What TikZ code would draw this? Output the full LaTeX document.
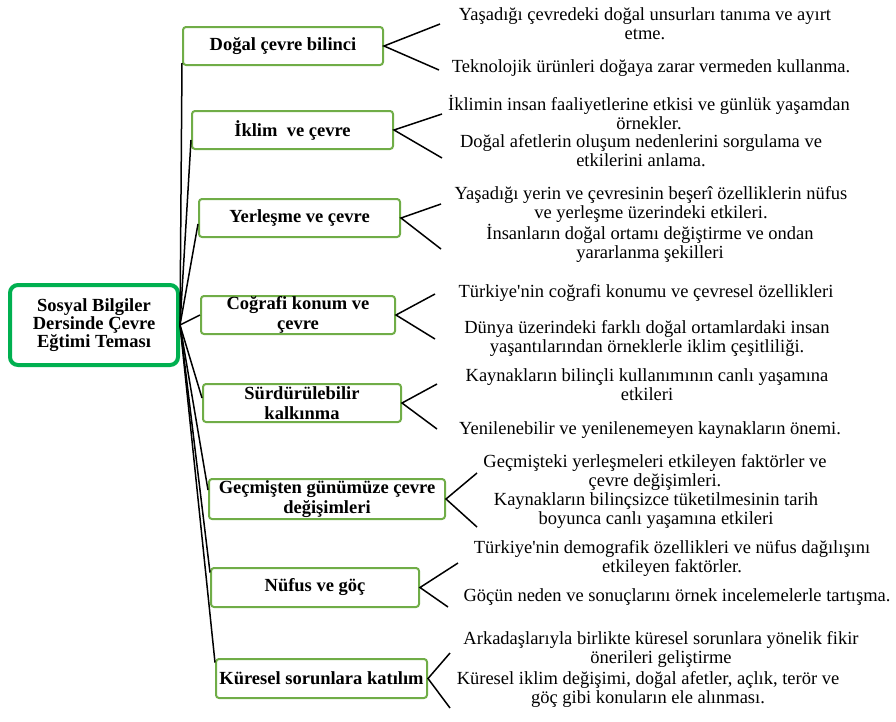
\documentclass[tikz,border=0pt]{standalone}
\usepackage{fontspec}
\setmainfont{Liberation Serif}
\newfontfamily\straightfont{Liberation Serif}
\usetikzlibrary{calc}
\definecolor{rootgreen}{RGB}{0,176,80}
\definecolor{boxgreen}{RGB}{112,173,71}
\newcommand{\apos}{{\straightfont '}}
\tikzset{
 rootbox/.style={draw=rootgreen, line width=4pt, rounded corners=8pt, inner sep=0pt, align=center, font=\bfseries\fontsize{18.5}{18}\selectfont},
 topicbox/.style={draw=boxgreen, line width=2pt, rounded corners=3pt, inner sep=0pt, align=center, font=\bfseries\fontsize{18.5}{19.5}\selectfont},
 leaf/.style={inner sep=0pt, align=center, font=\fontsize{18.5}{19}\selectfont},
 link/.style={draw=black, line width=1.5pt},
}
\begin{document}
\begin{tikzpicture}[x=1pt,y=-1pt]
\useasboundingbox (0,0) rectangle (896,721);
\node[rootbox, minimum width=168pt, minimum height=80pt] (root) at (94,325) {Sosyal Bilgiler\\Dersinde Çevre\\Eğtimi Teması};

\node[topicbox, minimum width=200pt, minimum height=38pt] (t1) at (283,46) {Doğal çevre bilinci};
\node[topicbox, minimum width=201pt, minimum height=38pt] (t2) at (292.5,130) {İklim\ \ ve çevre};
\node[topicbox, minimum width=201pt, minimum height=38pt] (t3) at (299.5,218) {Yerleşme ve çevre};
\node[topicbox, minimum width=194pt, minimum height=38pt] (t4) at (298,315) {Coğrafi konum ve\\çevre};
\node[topicbox, minimum width=198pt, minimum height=38pt] (t5) at (302,403) {Sürdürülebilir\\kalkınma};
\node[topicbox, minimum width=236pt, minimum height=40pt] (t6) at (327,499) {Geçmişten günümüze çevre\\değişimleri};
\node[topicbox, minimum width=208pt, minimum height=39pt] (t7) at (315,587.5) {Nüfus ve göç};
\node[topicbox, minimum width=211pt, minimum height=39pt] (t8) at (321.5,678.5) {Küresel sorunlara katılım};

\draw[link] (root.east) -- ([yshift=-17pt]t1.west);
\draw[link] (root.east) -- ([yshift=-10pt]t2.west);
\draw[link] (root.east) -- ([yshift=-6pt]t3.west);
\draw[link] (root.east) -- (t4.west);
\draw[link] (root.east) -- ([yshift=5pt]t5.west);
\draw[link] (root.east) -- ([yshift=9pt]t6.west);
\draw[link] (root.east) -- ([yshift=15pt]t7.west);
\draw[link] (root.east) -- ([yshift=16pt]t8.west);

\node[leaf] (l1a) at (645,24) {Yaşadığı çevredeki doğal unsurları tanıma ve ayırt\\etme.};
\node[leaf] (l1b) at (651,68) {Teknolojik ürünleri doğaya zarar vermeden kullanma.};
\node[leaf] (l2a) at (649,112) {İklimin insan faaliyetlerine etkisi ve günlük yaşamdan\\örnekler.};
\node[leaf] (l2b) at (641,151) {Doğal afetlerin oluşum nedenlerini sorgulama ve\\etkilerini anlama.};
\node[leaf] (l3a) at (651,204) {Yaşadığı yerin ve çevresinin beşerî özelliklerin nüfus\\ve yerleşme üzerindeki etkileri.};
\node[leaf] (l3b) at (650,243) {İnsanların doğal ortamı değiştirme ve ondan\\yararlanma şekilleri};
\node[leaf] (l4a) at (646,293) {Türkiye\apos nin coğrafi konumu ve çevresel özellikleri};
\node[leaf] (l4b) at (647,338) {Dünya üzerindeki farklı doğal ortamlardaki insan\\yaşantılarından örneklerle iklim çeşitliliği.};
\node[leaf] (l5a) at (647,385) {Kaynakların bilinçli kullanımının canlı yaşamına\\etkileri};
\node[leaf] (l5b) at (650,430) {Yenilenebilir ve yenilenemeyen kaynakların önemi.};
\node[leaf] (l6a) at (655,472) {Geçmişteki yerleşmeleri etkileyen faktörler ve\\çevre değişimleri.};
\node[leaf] (l6b) at (656,511) {Kaynakların bilinçsizce tüketilmesinin tarih\\boyunca canlı yaşamına etkileri};
\node[leaf] (l7a) at (672,558) {Türkiye\apos nin demografik özellikleri ve nüfus dağılışını\\etkileyen faktörler.};
\node[leaf] (l7b) at (677,597) {Göçün neden ve sonuçlarını örnek incelemelerle tartışma.};
\node[leaf] (l8a) at (661,649) {Arkadaşlarıyla birlikte küresel sorunlara yönelik fikir\\önerileri geliştirme};
\node[leaf] (l8b) at (648,689) {Küresel iklim değişimi, doğal afetler, açlık, terör ve\\göç gibi konuların ele alınması.};

\coordinate (f1a) at (440,24); \coordinate (f1b) at (439,70);
\coordinate (f2a) at (442,114); \coordinate (f2b) at (442,158);
\coordinate (f3a) at (441,204); \coordinate (f3b) at (441,249);
\coordinate (f4a) at (435,294); \coordinate (f4b) at (435,339);
\coordinate (f5a) at (437,384); \coordinate (f5b) at (437,429);
\coordinate (f6a) at (477,473); \coordinate (f6b) at (477,527);
\coordinate (f7a) at (458,563); \coordinate (f7b) at (448,607);
\coordinate (f8a) at (450,653); \coordinate (f8b) at (450,708);

\draw[link] (f1a) -- (t1.east) -- (f1b);
\draw[link] (f2a) -- (t2.east) -- (f2b);
\draw[link] (f3a) -- (t3.east) -- (f3b);
\draw[link] (f4a) -- (t4.east) -- (f4b);
\draw[link] (f5a) -- (t5.east) -- (f5b);
\draw[link] (f6a) -- (t6.east) -- (f6b);
\draw[link] (f7a) -- (t7.east) -- (f7b);
\draw[link] (f8a) -- (t8.east) -- (f8b);
\end{tikzpicture}
\end{document}
